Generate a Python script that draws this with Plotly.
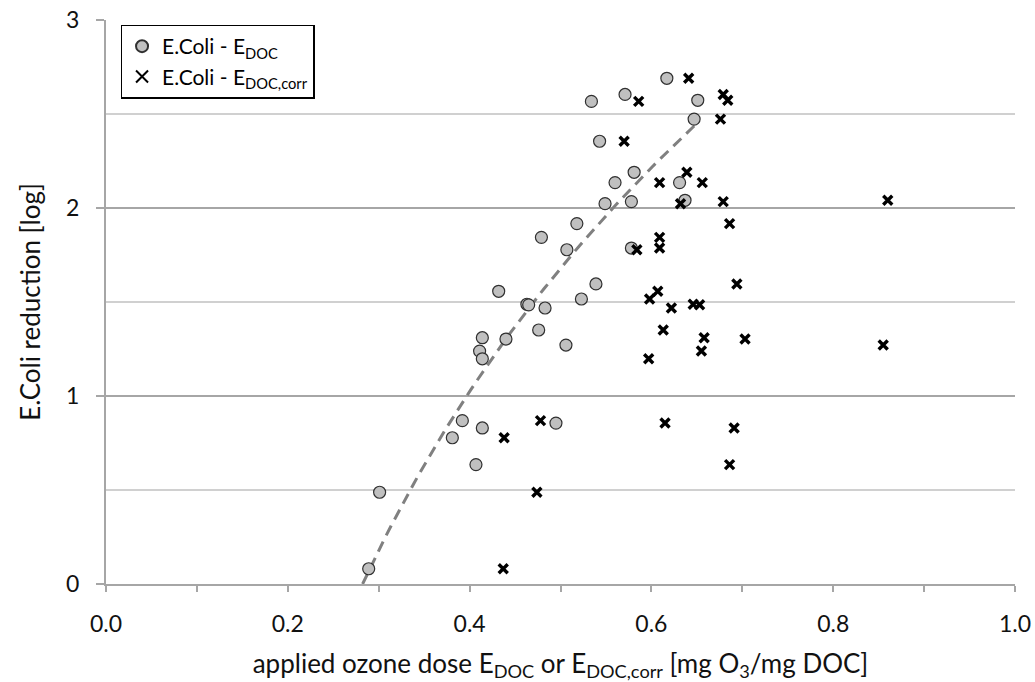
import numpy as np
import plotly.graph_objects as go

# E.Coli reduction [log] for each sample
ecoli_red = [2.690, 2.567, 2.604, 2.573, 2.473, 2.355, 2.190, 2.135, 2.135, 2.023,
             2.034, 2.041, 1.917, 1.844, 1.778, 1.787,
             1.557, 1.488, 1.485, 1.468, 1.516, 1.596, 1.351, 1.310, 1.303, 1.239,
             1.198, 1.271, 0.869, 0.830, 0.778, 0.635, 0.856, 0.488, 0.081]
# applied ozone dose E_DOC
e_doc = [0.617, 0.534, 0.571, 0.651, 0.647, 0.543, 0.581, 0.560, 0.631, 0.549,
         0.578, 0.637, 0.518, 0.479, 0.507, 0.578,
         0.432, 0.463, 0.465, 0.483, 0.523, 0.539, 0.476, 0.414, 0.440, 0.411,
         0.414, 0.506, 0.392, 0.414, 0.381, 0.407, 0.495, 0.301, 0.289]
# applied ozone dose E_DOC,corr
e_doc_corr = [0.641, 0.586, 0.679, 0.684, 0.676, 0.570, 0.639, 0.609, 0.656, 0.632,
              0.679, 0.860, 0.686, 0.609, 0.584, 0.609,
              0.607, 0.646, 0.653, 0.622, 0.598, 0.694, 0.613, 0.658, 0.703, 0.655,
              0.597, 0.855, 0.478, 0.691, 0.438, 0.686, 0.615, 0.474, 0.437]

x_ticks = [0.0, 0.2, 0.4, 0.6, 0.8, 1.0]
x_ticktext = ["0.0", "0.2", "0.4", "0.6", "0.8", "1.0"]
y_ticks = [0, 1, 2, 3]

FONT = "Lato"

# logarithmic trendline fitted to E_DOC data (like a spreadsheet trendline)
xd = np.array(e_doc)
yd = np.array(ecoli_red)
a, b = np.polyfit(np.log(xd), yd, 1)
x_root = float(np.exp(-b / a))
x_start = min(x_root, xd.min())
xt = np.linspace(x_start, xd.max(), 60)
yt = a * np.log(xt) + b

fig = go.Figure()
fig.add_trace(go.Scatter(
    x=xt, y=yt, mode="lines", showlegend=False, hoverinfo="skip",
    line=dict(color="#808080", width=3, dash="11px,7px"),
))
fig.add_trace(go.Scatter(
    x=e_doc, y=ecoli_red, mode="markers", name="E.Coli - E<sub>DOC</sub>",
    marker=dict(symbol="circle", size=12, color="#c0c0c0",
                line=dict(color="#303030", width=1.2)),
))
fig.add_trace(go.Scatter(
    x=e_doc_corr, y=ecoli_red, mode="markers", name="E.Coli - E<sub>DOC,corr</sub>",
    marker=dict(symbol="x-thin", size=9, color="black",
                line=dict(color="black", width=3.4)),
))

fig.update_layout(
    width=1035, height=682,
    margin=dict(l=106, r=20, t=20, b=98),
    paper_bgcolor="white", plot_bgcolor="white",
    font=dict(family=FONT, size=22, color="#111111"),
    legend=dict(
        x=0.016, y=0.992, xanchor="left", yanchor="top",
        bgcolor="white", bordercolor="black", borderwidth=1.5,
        font=dict(family=FONT, size=21, color="black"),
        tracegroupgap=0, itemsizing="constant", itemwidth=30,
    ),
    xaxis=dict(
        range=[0, 1.0], tickvals=x_ticks, ticktext=x_ticktext,
        automargin=False,
        showgrid=False, zeroline=False,
        showline=True, linecolor="#a6a6a6", linewidth=2,
        ticks="outside", ticklen=6, tickcolor="#a6a6a6", tickwidth=1.5,
        minor=dict(dtick=0.1, tick0=0, ticks="outside", ticklen=6,
                   tickcolor="#a6a6a6", tickwidth=1.5, showgrid=False),
        tickfont=dict(family=FONT, size=23, color="#111111"),
        ticklabelstandoff=12,
        title=dict(text="applied ozone dose E<sub>DOC</sub> or E<sub>DOC,corr</sub> [mg O<sub>3</sub>/mg DOC]",
                   font=dict(family=FONT, size=26, color="#111111"), standoff=20),
    ),
    yaxis=dict(
        range=[0, 3], tickvals=y_ticks,
        automargin=False,
        showgrid=True, gridcolor="#a6a6a6", gridwidth=2, zeroline=False,
        showline=True, linecolor="#a6a6a6", linewidth=2,
        ticks="outside", ticklen=8, tickcolor="#a6a6a6", tickwidth=1.5,
        minor=dict(dtick=0.5, tick0=0, showgrid=True, gridcolor="#d0d0d0", gridwidth=2,
                   ticks=""),
        tickfont=dict(family=FONT, size=23, color="#111111"),
        ticklabelstandoff=12,
        title=dict(text="E.Coli reduction [log]",
                   font=dict(family=FONT, size=26, color="#111111"), standoff=18),
    ),
)

fig.write_html("out.html")
